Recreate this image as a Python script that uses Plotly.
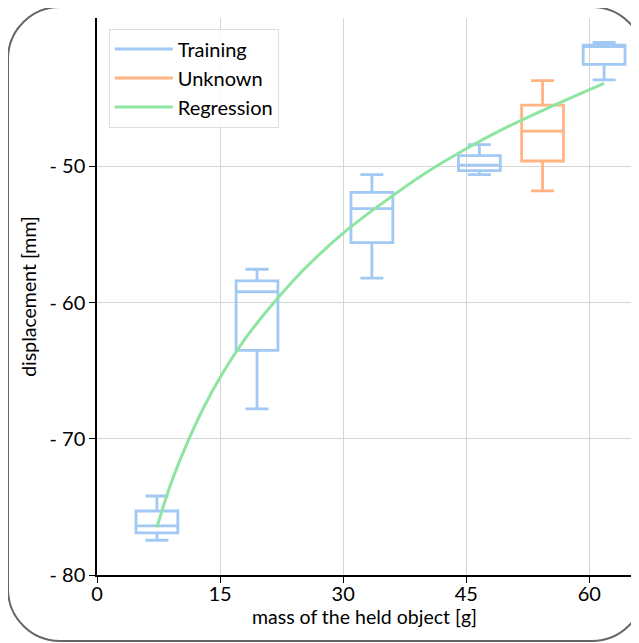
import plotly.graph_objects as go

# ---- data ----
train_x = [7.3, 19.5, 33.5, 46.6, 61.8]
train_low = [-77.45, -67.8, -58.2, -50.6, -43.65]
train_q1 = [-76.9, -63.5, -55.6, -50.3, -42.5]
train_med = [-76.4, -59.2, -53.1, -49.9, -41.2]
train_q3 = [-75.3, -58.4, -51.9, -49.2, -41.1]
train_high = [-74.2, -57.55, -50.6, -48.4, -40.9]

unk_x = [54.3]
unk_low = [-51.8]
unk_q1 = [-49.6]
unk_med = [-47.4]
unk_q3 = [-45.5]
unk_high = [-43.7]

reg_x = [7.3, 9, 11, 13, 15, 18, 21, 25, 30, 35, 40, 45, 50, 55, 61.8]
reg_y = [-76.5, -73.3, -70.3, -67.7, -65.5, -62.7, -60.4, -57.7, -54.9, -52.6,
         -50.5, -48.7, -47.1, -45.7, -43.9]

x_ticks = [0, 15, 30, 45, 60]
y_ticks = [-50, -60, -70, -80]
y_ticktext = ["- 50", "- 60", "- 70", "- 80"]

BLUE = "#a1c9f4"
ORANGE = "#ffb482"
GREEN = "#8de5a1"
FONT = "Lato, 'Open Sans', sans-serif"

fig = go.Figure()

for x, lo, q1, md, q3, hi in zip(train_x, train_low, train_q1, train_med, train_q3, train_high):
    fig.add_trace(go.Box(x=[x], q1=[q1], median=[md], q3=[q3], lowerfence=[lo], upperfence=[hi],
                         width=5.1, whiskerwidth=0.55, line=dict(color=BLUE, width=2.8),
                         fillcolor="rgba(0,0,0,0)", boxpoints=False, showlegend=False))
for x, lo, q1, md, q3, hi in zip(unk_x, unk_low, unk_q1, unk_med, unk_q3, unk_high):
    fig.add_trace(go.Box(x=[x], q1=[q1], median=[md], q3=[q3], lowerfence=[lo], upperfence=[hi],
                         width=5.1, whiskerwidth=0.55, line=dict(color=ORANGE, width=2.8),
                         fillcolor="rgba(0,0,0,0)", boxpoints=False, showlegend=False))

fig.add_trace(go.Scatter(x=reg_x, y=reg_y, mode="lines", line=dict(color=GREEN, width=3, shape="spline"),
                         showlegend=False))

# legend entries
fig.add_trace(go.Scatter(x=[None], y=[None], mode="lines", line=dict(color=BLUE, width=3), name="Training"))
fig.add_trace(go.Scatter(x=[None], y=[None], mode="lines", line=dict(color=ORANGE, width=3), name="Unknown"))
fig.add_trace(go.Scatter(x=[None], y=[None], mode="lines", line=dict(color=GREEN, width=3), name="Regression"))

# page offset (body margin) of 8px
OFF = 8
L, T, W, H = 97 - OFF, 18 - OFF, 535, 557
def px(x, y):
    return (x - OFF - L) / W, 1 - (y - OFF - T) / H
x0, y0, x1, y1, r = 8, 7, 644, 641, 52
k = r * 0.5523
pts = [
    ("M", [(x0 + r, y0)]),
    ("L", [(x1 - r, y0)]),
    ("C", [(x1 - r + k, y0), (x1, y0 + r - k), (x1, y0 + r)]),
    ("L", [(x1, y1 - r)]),
    ("C", [(x1, y1 - r + k), (x1 - r + k, y1), (x1 - r, y1)]),
    ("L", [(x0 + r, y1)]),
    ("C", [(x0 + r - k, y1), (x0, y1 - r + k), (x0, y1 - r)]),
    ("L", [(x0, y0 + r)]),
    ("C", [(x0, y0 + r - k), (x0 + r - k, y0), (x0 + r, y0)]),
]
path = ""
for cmd, ps in pts:
    path += cmd + " " + " ".join("%.5f,%.5f" % px(a, b) for a, b in ps) + " "
path += "Z"

fig.update_layout(
    width=639, height=643,
    margin=dict(l=L, r=639 - L - W, t=T, b=643 - T - H),
    paper_bgcolor="white", plot_bgcolor="white",
    font=dict(family=FONT, size=19, color="black"),
    showlegend=True,
    legend=dict(x=0.022, y=0.981, xanchor="left", yanchor="top",
                bgcolor="rgba(255,255,255,0.9)", bordercolor="#dddddd", borderwidth=1,
                font=dict(size=20), itemwidth=58, tracegroupgap=0),
    shapes=[dict(type="path", xref="paper", yref="paper", path=path,
                 line=dict(color="#666666", width=2), layer="below")],
    boxmode="overlay",
)
fig.update_xaxes(range=[0, 65.2], tickvals=x_ticks, ticktext=[str(v) for v in x_ticks],
                 showline=True, linecolor="black", linewidth=1.5, ticks="outside", ticklen=6,
                 tickcolor="black", showgrid=True, gridcolor="#d5d5d5", gridwidth=1, zeroline=False,
                 tickfont=dict(size=20), ticklabelstandoff=-6,
                 title=dict(text="mass of the held object [g]", font=dict(size=19.5), standoff=4))
fig.update_yaxes(range=[-80, -39.1], tickvals=y_ticks, ticktext=y_ticktext,
                 showline=True, linecolor="black", linewidth=1.5, ticks="outside", ticklen=6,
                 tickcolor="black", showgrid=True, gridcolor="#d5d5d5", gridwidth=1, zeroline=False,
                 tickfont=dict(size=20),
                 title=dict(text="displacement [mm]", font=dict(size=19.5), standoff=8))

fig.write_html("out.html")
